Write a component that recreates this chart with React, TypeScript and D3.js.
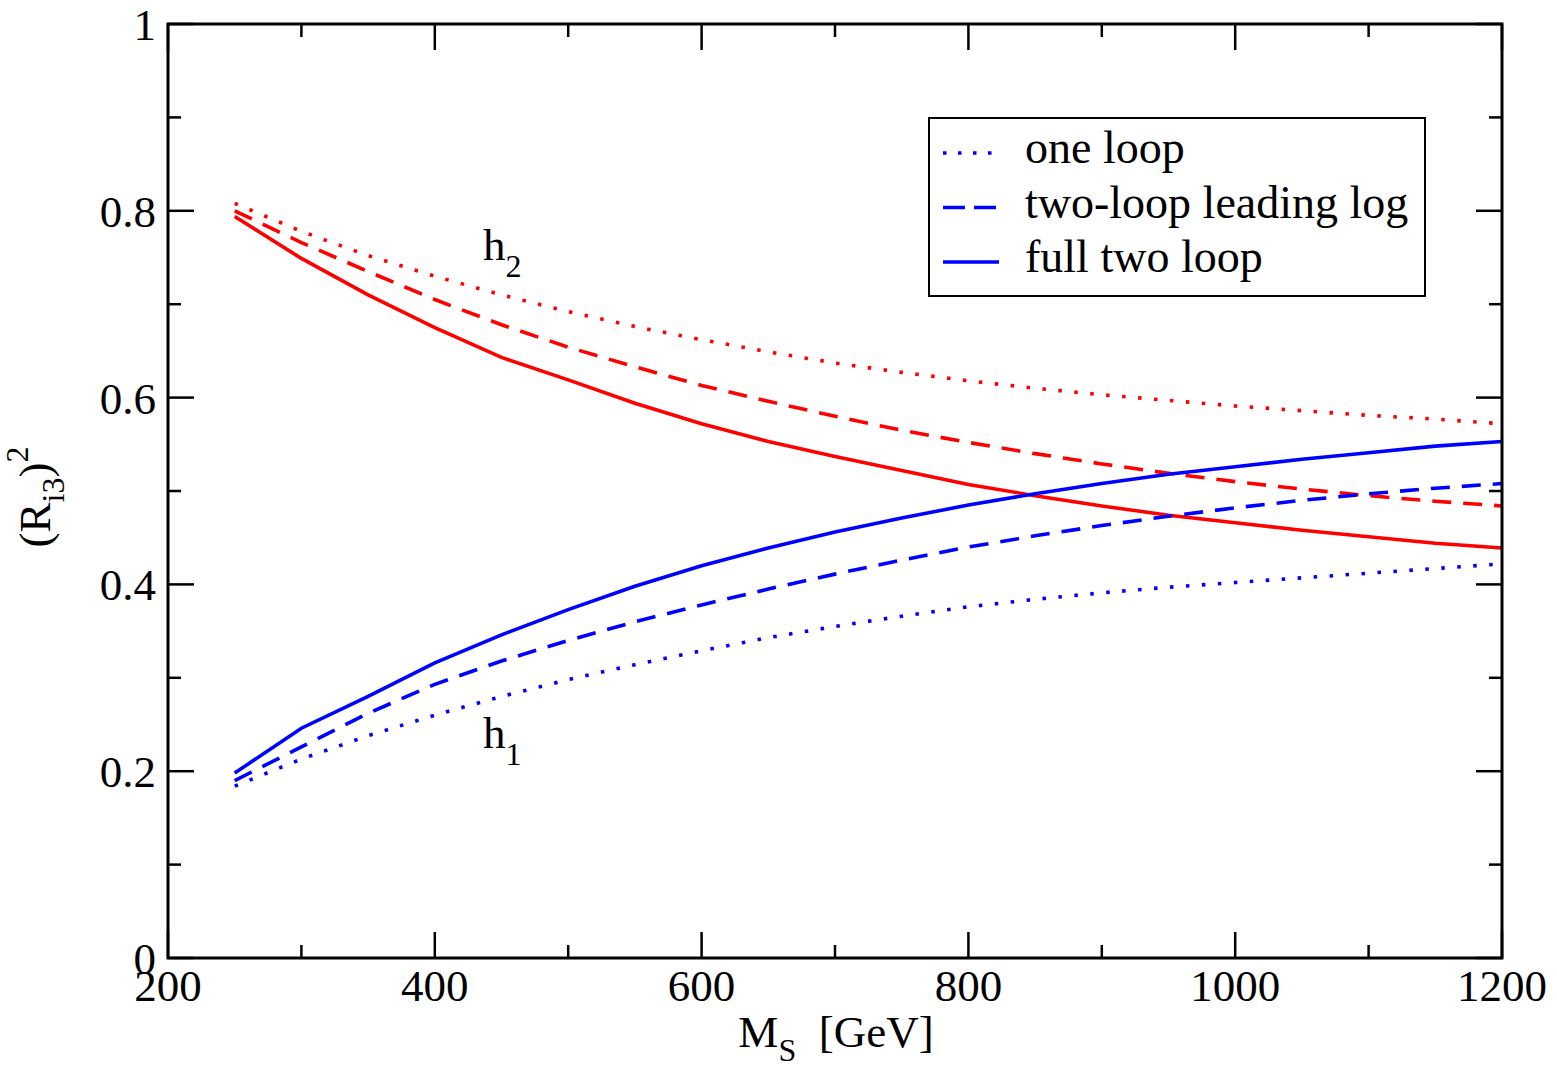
import React from "react";
import * as d3 from "d3";

// Soft-scale mass M_S [GeV]
const MS = [250, 300, 350, 400, 450, 500, 550, 600, 650, 700, 750, 800, 850, 900, 950, 1000, 1050, 1100, 1150, 1200];

// h2 (red)
const h2OneLoop = [0.808, 0.778, 0.752, 0.730, 0.710, 0.692, 0.676, 0.662, 0.649, 0.637, 0.627, 0.618, 0.610, 0.603, 0.597, 0.591, 0.586, 0.581, 0.577, 0.572];
const h2LeadingLog = [0.800, 0.766, 0.735, 0.705, 0.678, 0.654, 0.633, 0.613, 0.596, 0.580, 0.565, 0.552, 0.540, 0.529, 0.519, 0.510, 0.502, 0.495, 0.489, 0.484];
const h2FullTwoLoop = [0.794, 0.749, 0.710, 0.675, 0.643, 0.619, 0.594, 0.572, 0.553, 0.537, 0.522, 0.507, 0.495, 0.484, 0.474, 0.466, 0.458, 0.451, 0.444, 0.439];

// h1 (blue)
const h1OneLoop = [0.184, 0.213, 0.238, 0.260, 0.280, 0.298, 0.314, 0.329, 0.343, 0.355, 0.366, 0.376, 0.384, 0.391, 0.397, 0.402, 0.407, 0.412, 0.417, 0.422];
const h1LeadingLog = [0.190, 0.226, 0.262, 0.293, 0.318, 0.340, 0.360, 0.378, 0.395, 0.411, 0.426, 0.440, 0.452, 0.463, 0.473, 0.482, 0.490, 0.497, 0.503, 0.508];
const h1FullTwoLoop = [0.198, 0.246, 0.280, 0.316, 0.346, 0.373, 0.398, 0.420, 0.439, 0.456, 0.471, 0.485, 0.497, 0.508, 0.518, 0.526, 0.534, 0.541, 0.548, 0.553];

const xMajorTicks = [200, 400, 600, 800, 1000, 1200];
const xMinorTicks = [300, 500, 700, 900, 1100];
const yMajorTicks = [0, 0.2, 0.4, 0.6, 0.8, 1];
const yMinorTicks = [0.1, 0.3, 0.5, 0.7, 0.9];
const yTickLabels = ["0", "0.2", "0.4", "0.6", "0.8", "1"];

const legendLabels = ["one loop", "two-loop leading log", "full two loop"];

const W = 1557;
const H = 1067;
const FONT = "'Liberation Serif', 'Times New Roman', Times, serif";
const RED = "#ff0000";
const BLUE = "#0000ff";

const DOT = "3.5,12.5";
const DASH = "19,12";
const SOLID = "none";

export default function App() {
  const left = 168, right = 1502, top = 24, bottom = 958;
  const x = d3.scaleLinear().domain([200, 1200]).range([left, right]);
  const y = d3.scaleLinear().domain([0, 1]).range([bottom, top]);

  const line = d3
    .line<number>()
    .x((_, i) => x(MS[i]))
    .y((d) => y(d));

  const series = [
    { v: h2OneLoop, c: RED, dash: DOT },
    { v: h2LeadingLog, c: RED, dash: DASH },
    { v: h2FullTwoLoop, c: RED, dash: SOLID },
    { v: h1OneLoop, c: BLUE, dash: DOT },
    { v: h1LeadingLog, c: BLUE, dash: DASH },
    { v: h1FullTwoLoop, c: BLUE, dash: SOLID },
  ];

  const major = 26;
  const minor = 13;

  const legendDash = ["3.5,11.5", "22,9", "none"];

  return (
    <svg
      width={W}
      height={H}
      style={{ position: "absolute", left: 0, top: 0, background: "#fff" }}
      fontFamily={FONT}
    >
      <rect x={0} y={0} width={W} height={H} fill="#fff" />

      {/* curves */}
      <g fill="none" strokeWidth={3.6}>
        {series.map((s, i) => (
          <path
            key={i}
            d={line(s.v) || ""}
            stroke={s.c}
            strokeDasharray={s.dash}
            strokeLinecap="butt"
          />
        ))}
      </g>

      {/* ticks on all four sides, pointing inward */}
      <g stroke="#000" strokeWidth={2.5}>
        {xMajorTicks.map((t) => (
          <g key={"xm" + t}>
            <line x1={x(t)} x2={x(t)} y1={bottom} y2={bottom - major} />
            <line x1={x(t)} x2={x(t)} y1={top} y2={top + major} />
          </g>
        ))}
        {xMinorTicks.map((t) => (
          <g key={"xn" + t}>
            <line x1={x(t)} x2={x(t)} y1={bottom} y2={bottom - minor} />
            <line x1={x(t)} x2={x(t)} y1={top} y2={top + minor} />
          </g>
        ))}
        {yMajorTicks.map((t) => (
          <g key={"ym" + t}>
            <line x1={left} x2={left + major} y1={y(t)} y2={y(t)} />
            <line x1={right} x2={right - major} y1={y(t)} y2={y(t)} />
          </g>
        ))}
        {yMinorTicks.map((t) => (
          <g key={"yn" + t}>
            <line x1={left} x2={left + minor} y1={y(t)} y2={y(t)} />
            <line x1={right} x2={right - minor} y1={y(t)} y2={y(t)} />
          </g>
        ))}
      </g>

      {/* frame */}
      <rect
        x={left}
        y={top}
        width={right - left}
        height={bottom - top}
        fill="none"
        stroke="#000"
        strokeWidth={3}
      />

      {/* tick labels */}
      <g fontSize={45} fill="#000">
        {xMajorTicks.map((t) => (
          <text key={"xl" + t} x={x(t)} y={1001} textAnchor="middle">
            {t}
          </text>
        ))}
        {yMajorTicks.map((t, i) => (
          <text key={"yl" + t} x={156} y={y(t) + 16} textAnchor="end">
            {yTickLabels[i]}
          </text>
        ))}
      </g>

      {/* axis titles */}
      <text x={836} y={1047} fontSize={45} textAnchor="middle" fill="#000">
        M<tspan fontSize={32} dy={14}>S</tspan>
        <tspan dy={-14}>{"\u00a0\u00a0[GeV]"}</tspan>
      </text>
      <text
        transform="translate(50,497) rotate(-90)"
        fontSize={45}
        textAnchor="middle"
        fill="#000"
      >
        (R<tspan fontSize={32} dy={14}>i3</tspan>
        <tspan dy={-14}>)</tspan>
        <tspan fontSize={32} dy={-22}>2</tspan>
      </text>

      {/* curve labels */}
      <text x={483} y={260} fontSize={45} fill="#000">
        h<tspan fontSize={32} dy={17}>2</tspan>
      </text>
      <text x={483} y={748} fontSize={45} fill="#000">
        h<tspan fontSize={32} dy={17}>1</tspan>
      </text>

      {/* legend */}
      <rect x={929} y={118} width={496} height={178} fill="#fff" stroke="#000" strokeWidth={2} />
      {legendLabels.map((lab, i) => {
        const ly = 153 + i * 54.5;
        return (
          <g key={lab}>
            <line
              x1={943}
              x2={999}
              y1={ly}
              y2={ly}
              stroke={BLUE}
              strokeWidth={3.6}
              strokeDasharray={legendDash[i]}
            />
            <text x={1025} y={ly + 10} fontSize={46} fill="#000">
              {lab}
            </text>
          </g>
        );
      })}
    </svg>
  );
}
